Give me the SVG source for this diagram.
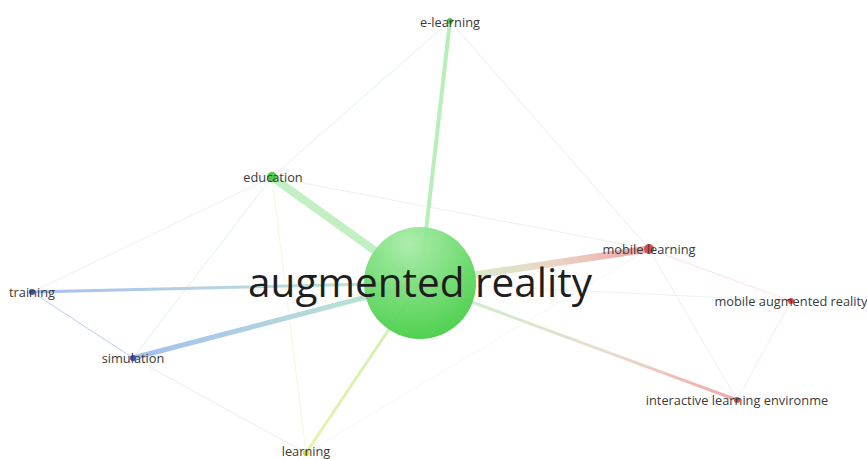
<svg xmlns="http://www.w3.org/2000/svg" width="867" height="459" viewBox="0 0 867 459">
<defs>
<style>
.lbl{font-family:"Open Sans","Liberation Sans",sans-serif;font-size:12.8px;fill:#3a3a3a;text-anchor:middle}
.big{font-family:"Open Sans","Liberation Sans",sans-serif;font-size:40.5px;fill:#1e1e1e;text-anchor:middle}
.e{fill:none;stroke-linecap:round}
.faint{stroke-width:1;opacity:0.35}
</style>
<radialGradient id="arFill" cx="0.4" cy="0.15" r="0.95">
<stop offset="0" stop-color="#a8eca8"/>
<stop offset="1" stop-color="#3ccb3c"/>
</radialGradient>
<linearGradient id="gML" gradientUnits="userSpaceOnUse" x1="420" y1="283" x2="649" y2="249">
<stop offset="0.25" stop-color="#dae8cc"/><stop offset="0.6" stop-color="#ead4c4"/><stop offset="1" stop-color="#f0a2a2"/>
</linearGradient>
<linearGradient id="gTR" gradientUnits="userSpaceOnUse" x1="420" y1="283" x2="32" y2="292">
<stop offset="0" stop-color="#c0ecd0"/><stop offset="1" stop-color="#a8bef0"/>
</linearGradient>
<linearGradient id="gSI" gradientUnits="userSpaceOnUse" x1="420" y1="283" x2="133" y2="358">
<stop offset="0" stop-color="#bdeccc"/><stop offset="1" stop-color="#a4bef0"/>
</linearGradient>
<linearGradient id="gLE" gradientUnits="userSpaceOnUse" x1="420" y1="283" x2="306" y2="453">
<stop offset="0" stop-color="#c6f0b8"/><stop offset="1" stop-color="#eaf2a8"/>
</linearGradient>
<linearGradient id="gIL" gradientUnits="userSpaceOnUse" x1="420" y1="283" x2="737" y2="400">
<stop offset="0.2" stop-color="#d0ecc8"/><stop offset="0.6" stop-color="#eadccc"/><stop offset="1" stop-color="#f0a6a6"/>
</linearGradient>
</defs>
<rect width="867" height="459" fill="#ffffff"/>
<g id="connectors">
<line class="e faint" x1="450" y1="21" x2="272" y2="177" stroke="#a8e0a8"/>
<line class="e faint" x1="450" y1="21" x2="649" y2="249" stroke="#c8c8c8"/>
<line class="e faint" x1="272" y1="177" x2="649" y2="249" stroke="#c0d8c0"/>
<line class="e faint" x1="272" y1="177" x2="32" y2="292" stroke="#c0d8c0"/>
<line class="e faint" x1="272" y1="177" x2="133" y2="358" stroke="#a8dca8"/>
<line class="e faint" x1="272" y1="177" x2="306" y2="453" stroke="#d8e8a8"/>
<line class="e faint" x1="133" y1="358" x2="306" y2="453" stroke="#b8c8f0"/>
<line class="e faint" x1="306" y1="453" x2="649" y2="249" stroke="#e0e8d0"/>
<line class="e faint" x1="420" y1="283" x2="791" y2="301" stroke="#c8e0c8"/>
<line class="e faint" x1="649" y1="249" x2="791" y2="301" stroke="#f0a8a8"/>
<line class="e faint" x1="649" y1="249" x2="737" y2="400" stroke="#d8c8d8"/>
<line class="e faint" x1="791" y1="301" x2="737" y2="400" stroke="#f0c0c0"/>
<line class="e" x1="32" y1="292" x2="133" y2="358" stroke="#a8b8f0" stroke-width="1" opacity="0.75"/>
<line class="e" x1="420" y1="283" x2="450" y2="21" stroke="#b8eeb8" stroke-width="4"/>
<line class="e" x1="420" y1="283" x2="272" y2="177" stroke="#c2f0c2" stroke-width="8"/>
<line class="e" x1="420" y1="283" x2="649" y2="249" stroke="url(#gML)" stroke-width="7"/>
<line class="e" x1="420" y1="283" x2="32" y2="292" stroke="url(#gTR)" stroke-width="3"/>
<line class="e" x1="420" y1="283" x2="133" y2="358" stroke="url(#gSI)" stroke-width="5"/>
<line class="e" x1="420" y1="283" x2="306" y2="453" stroke="url(#gLE)" stroke-width="3"/>
<line class="e" x1="420" y1="283" x2="737" y2="400" stroke="url(#gIL)" stroke-width="3"/>
</g>
<g id="node-augmented-reality">
<circle cx="420" cy="283" r="56" fill="url(#arFill)" opacity="0.95"/>
<text class="big" x="420" y="297">augmented reality</text>
</g>
<g id="node-e-learning">
<circle cx="450" cy="21" r="3" fill="#45c845"/>
<text class="lbl" x="450" y="26.5">e-learning</text>
</g>
<g id="node-education">
<circle cx="272" cy="177" r="5" fill="#4cca4c"/>
<text class="lbl" x="273" y="181.5">education</text>
</g>
<g id="node-training">
<circle cx="32" cy="292" r="3" fill="#3550c8"/>
<text class="lbl" x="32" y="296.5">training</text>
</g>
<g id="node-simulation">
<circle cx="133" cy="358" r="3" fill="#3550c8"/>
<text class="lbl" x="133" y="362.5">simulation</text>
</g>
<g id="node-learning">
<circle cx="306" cy="453" r="3" fill="#d2d23a"/>
<text class="lbl" x="306" y="456">learning</text>
</g>
<g id="node-mobile-learning">
<circle cx="649" cy="249" r="5" fill="#e04a4a"/>
<text class="lbl" x="649" y="253.5">mobile learning</text>
</g>
<g id="node-mobile-augmented-reality">
<circle cx="791" cy="301" r="3" fill="#e04a4a"/>
<text class="lbl" x="791" y="305.5">mobile augmented reality</text>
</g>
<g id="node-interactive-learning-environment">
<circle cx="737" cy="400" r="3" fill="#e04a4a"/>
<text class="lbl" x="737" y="404.5">interactive learning environme</text>
</g>
</svg>
